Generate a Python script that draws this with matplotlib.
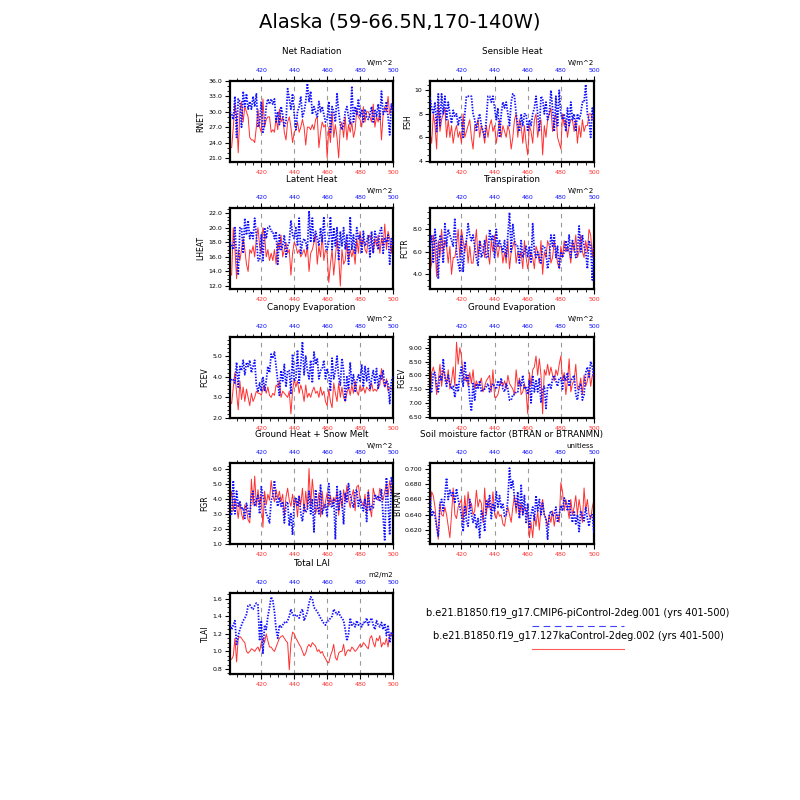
import numpy as np
import matplotlib
matplotlib.use("Agg")
import matplotlib.pyplot as plt
from matplotlib.ticker import MultipleLocator, FormatStrFormatter, FixedLocator
from matplotlib.lines import Line2D

# ---------------- data ----------------
rnet_a = [30.0, 29.5, 28.5, 33.0, 25.0, 32.5, 32.0, 27.0, 34.0, 31.0,
          33.5, 30.5, 32.0, 30.5, 33.0, 31.0, 33.5, 27.0, 28.0, 32.0,
          26.0, 27.5, 31.0, 32.5, 31.5, 32.5, 31.5, 32.5, 28.0, 30.0,
          27.5, 31.0, 29.5, 27.0, 28.0, 34.5, 32.5, 30.5, 33.5, 29.5,
          26.5, 30.0, 31.0, 33.0, 29.0, 30.0, 32.0, 35.5, 32.0, 34.0,
          29.5, 31.0, 30.0, 29.0, 32.0, 30.0, 31.0, 29.5, 28.0, 28.5,
          32.0, 26.0, 31.0, 30.0, 28.0, 33.5, 30.0, 27.5, 26.5, 27.5,
          30.0, 31.0, 29.0, 27.5, 35.0, 28.0, 31.0, 29.5, 32.5, 29.0,
          30.5, 28.0, 30.5, 29.0, 28.5, 29.5, 31.0, 28.0, 30.5, 29.0,
          31.5, 28.5, 34.0, 29.5, 30.0, 32.0, 29.0, 25.5, 31.5, 30.0]
rnet_b = [23.0, 23.0, 27.0, 31.5, 29.0, 22.0, 30.0, 32.0, 28.0, 31.0,
          30.0, 29.0, 25.0, 24.5, 24.5, 24.0, 27.0, 30.5, 27.0, 26.0,
          32.5, 27.0, 28.5, 29.0, 29.0, 26.0, 26.5, 26.0, 29.0, 26.5,
          30.5, 28.0, 29.0, 26.0, 24.5, 28.0, 29.0, 27.0, 24.0, 26.0,
          26.5, 28.0, 26.0, 27.0, 28.5, 27.0, 23.5, 27.0, 27.0, 26.5,
          27.5, 26.5, 28.5, 29.0, 23.0, 26.0, 28.0, 27.0, 27.5, 21.0,
          27.0, 24.0, 30.0, 25.0, 27.5, 25.0, 21.0, 27.0, 28.0, 25.0,
          29.0, 24.5, 27.5, 26.0, 28.0, 25.0, 26.5, 30.5, 29.0, 28.5,
          27.0, 31.0, 28.0, 30.0, 30.0, 29.0, 28.0, 31.5, 27.0, 29.0,
          28.0, 30.0, 24.5, 29.5, 31.0, 30.0, 33.0, 29.5, 31.0, 30.5]

fsh_a = [9.4, 8.5, 8.0, 9.0, 6.5, 9.7, 7.0, 9.7, 8.0, 9.5,
         7.5, 9.0, 8.0, 7.2, 8.3, 7.8, 8.0, 7.0, 7.8, 7.5,
         6.0, 8.0, 9.5, 9.5, 9.5, 9.5, 8.0, 7.5, 6.5, 7.5,
         8.0, 7.0, 6.5, 6.0, 7.5, 9.5, 9.5, 9.0, 9.5, 8.5,
         7.5, 8.5, 6.0, 8.0, 9.0, 8.5, 9.0, 8.0, 7.0, 9.0,
         9.7, 9.5, 8.0, 7.0, 6.5, 8.0, 7.0, 8.0, 8.0, 6.5,
         7.5, 7.0, 8.0, 8.5, 9.5, 8.0, 6.5, 9.5, 9.3, 8.0,
         9.0, 7.5, 8.0, 10.0, 8.5, 6.5, 9.5, 7.0, 10.0, 8.0,
         7.5, 8.0, 6.5, 8.5, 7.0, 9.0, 7.5, 8.0, 6.5, 8.0,
         7.5, 8.0, 9.0, 9.0, 10.5, 8.0, 7.5, 6.0, 8.5, 7.5]
fsh_b = [6.5, 5.5, 8.0, 7.0, 5.0, 9.0, 6.5, 7.5, 8.0, 8.5,
         6.0, 7.5, 6.0, 7.0, 5.5, 6.5, 7.0, 6.0, 6.5, 5.5,
         8.0, 6.0, 6.5, 7.0, 7.5, 6.0, 5.0, 7.0, 7.0, 7.5,
         6.0, 7.0, 6.5, 5.5, 7.0, 6.0, 7.0, 7.5, 6.5, 7.0,
         5.5, 6.5, 7.5, 6.0, 7.0, 6.5, 6.0, 7.0, 6.5, 5.0,
         6.0, 7.5, 8.0, 6.0, 7.5, 7.0, 5.5, 7.0, 5.5, 4.5,
         7.0, 6.5, 5.5, 7.5, 8.0, 6.0, 7.0, 7.5, 4.5, 7.0,
         6.0, 7.5, 8.0, 8.5, 6.5, 7.5, 8.0, 6.0, 5.5, 5.0,
         8.0, 7.0, 7.5, 6.0, 7.0, 7.5, 7.5, 6.5, 7.5, 5.5,
         7.0, 6.0, 7.5, 6.5, 7.0, 7.0, 8.0, 8.0, 7.5, 7.5]

lheat_a = [18.0, 17.5, 17.0, 20.0, 16.0, 13.5, 20.0, 20.0, 16.5, 21.3,
           19.0, 21.0, 18.5, 19.5, 18.5, 21.3, 19.0, 15.5, 15.5, 19.0,
           15.5, 20.0, 18.5, 20.0, 20.2, 19.5, 19.5, 18.5, 19.5, 15.0,
           19.0, 17.0, 17.5, 19.0, 16.0, 17.5, 18.0, 21.0, 19.0, 18.5,
           20.0, 17.5, 21.3, 16.5, 18.0, 18.5, 18.0, 17.0, 22.3, 18.0,
           21.3, 18.0, 19.5, 18.5, 17.5, 20.0, 18.0, 21.5, 17.5, 17.0,
           18.0, 21.5, 17.0, 20.0, 17.5, 20.0, 15.5, 19.5, 17.5, 20.0,
           17.0, 19.0, 15.0, 21.5, 17.0, 19.0, 16.5, 20.0, 18.5, 19.0,
           16.5, 19.5, 17.5, 18.0, 19.0, 16.0, 19.5, 16.5, 19.5, 18.5,
           17.0, 19.5, 20.0, 16.5, 18.5, 18.0, 19.0, 15.0, 18.5, 17.5]
lheat_b = [13.8, 13.5, 20.0, 17.0, 13.0, 17.0, 15.5, 17.0, 18.5, 17.0,
           15.0, 14.0, 17.0, 16.5, 17.5, 16.0, 18.5, 20.0, 17.5, 16.5,
           20.0, 19.0, 16.0, 17.0, 15.5, 16.5, 15.5, 17.0, 15.0, 18.0,
           17.0, 19.0, 16.0, 17.0, 18.0, 16.5, 17.0, 13.5, 16.5, 18.0,
           17.5, 16.5, 17.0, 16.0, 16.5, 17.0, 16.0, 17.5, 14.0, 16.5,
           17.0, 18.0, 19.0, 15.0, 17.5, 16.0, 19.0, 15.5, 17.0, 16.5,
           12.5, 15.0, 17.0, 13.5, 16.0, 18.5, 16.0, 12.0, 17.0, 15.0,
           15.5, 18.0, 15.5, 17.0, 16.0, 17.0, 15.0, 18.5, 16.5, 19.5,
           17.5, 18.5, 17.0, 16.5, 18.5, 19.0, 18.0, 16.5, 18.5, 17.5,
           19.0, 16.5, 18.5, 17.5, 20.5, 17.0, 19.5, 18.5, 16.5, 19.5]

fctr_a = [6.5, 7.5, 5.0, 8.0, 6.5, 3.6, 7.5, 7.0, 5.0, 8.5,
          6.5, 8.0, 7.5, 7.0, 6.5, 9.0, 6.0, 5.0, 4.3, 7.5,
          4.2, 6.5, 7.0, 8.5, 7.5, 7.0, 7.5, 6.5, 5.5, 4.8,
          7.0, 5.5, 6.0, 7.0, 5.5, 5.5, 8.0, 7.0, 7.5, 5.5,
          8.0, 6.5, 7.0, 6.5, 6.0, 7.0, 5.5, 7.5, 9.5, 6.0,
          8.5, 7.0, 6.5, 6.5, 5.0, 7.0, 5.5, 6.0, 6.5, 5.5,
          6.5, 5.0, 8.5, 6.0, 5.5, 6.0, 5.5, 5.0, 6.5, 6.5,
          6.0, 4.5, 5.5, 7.5, 6.5, 7.5, 5.5, 6.5, 4.5, 6.0,
          5.5, 6.0, 7.0, 6.0, 7.5, 5.5, 7.0, 6.5, 5.5, 6.0,
          8.3, 6.0, 7.5, 6.5, 6.0, 4.5, 7.0, 6.5, 3.5, 6.5]
fctr_b = [4.2, 5.0, 7.5, 6.5, 3.8, 7.0, 5.5, 8.0, 6.0, 7.0,
          6.5, 5.0, 6.5, 4.0, 5.5, 5.5, 6.5, 8.0, 5.5, 8.0,
          7.0, 6.0, 7.0, 5.0, 6.5, 5.0, 5.0, 6.5, 8.0, 5.5,
          7.0, 6.5, 6.5, 5.5, 7.5, 6.0, 4.9, 7.0, 6.0, 7.5,
          6.5, 5.5, 6.5, 6.5, 5.0, 6.0, 5.0, 7.0, 4.5, 6.0,
          6.5, 7.0, 5.0, 6.0, 5.5, 6.0, 4.5, 7.0, 5.5, 4.5,
          5.5, 6.0, 5.5, 4.5, 6.5, 6.0, 5.0, 7.0, 4.0, 6.0,
          5.5, 7.0, 6.5, 5.0, 5.5, 7.0, 6.0, 5.0, 4.5, 6.5,
          5.5, 7.0, 6.0, 6.5, 6.0, 5.0, 7.0, 6.0, 7.5, 5.5,
          6.0, 7.5, 6.0, 5.5, 7.0, 6.0, 8.0, 7.5, 5.5, 7.5]

fcev_a = [3.7, 3.9, 3.85, 3.7, 4.7, 3.5, 4.5, 4.3, 4.8, 4.1,
          4.7, 4.5, 4.8, 4.2, 4.5, 4.8, 3.6, 3.3, 3.7, 3.3,
          4.0, 3.3, 3.8, 4.5, 4.2, 5.1, 4.9, 5.2, 4.5, 3.8,
          3.1, 4.3, 3.8, 4.6, 3.5, 4.3, 4.3, 3.2, 5.1, 3.8,
          3.9, 5.3, 3.7, 4.6, 5.7, 4.1, 5.0, 4.3, 3.9, 4.8,
          3.7, 5.2, 4.6, 4.9, 3.9, 4.3, 4.4, 4.8, 3.9, 4.4,
          4.1, 3.3, 4.9, 3.9, 4.3, 5.0, 4.0, 3.6, 4.9, 4.3,
          2.8, 4.0, 3.4, 4.7, 3.6, 4.1, 3.3, 3.8, 4.1, 3.8,
          4.6, 3.5, 4.5, 3.8, 4.4, 3.4, 3.9, 4.3, 3.7, 4.4,
          3.4, 4.1, 3.9, 4.3, 3.5, 3.8, 3.7, 2.7, 3.8, 4.0]
fcev_b = [2.8, 2.7, 3.5, 4.2, 3.2, 2.4, 3.8, 2.9, 3.5, 2.8,
          3.4, 3.0, 2.6, 3.2, 2.8, 3.0, 3.3, 3.2, 3.2, 3.1,
          3.4, 3.6, 3.2, 3.5, 3.1, 3.0, 3.2, 3.1, 3.6, 3.5,
          3.8, 3.0, 3.3, 3.2, 3.1, 3.0, 3.3, 2.2, 3.3, 3.9,
          3.5, 3.8, 3.2, 3.6, 3.3, 2.8, 3.6, 3.0, 3.2, 3.0,
          3.3, 3.5, 3.2, 3.3, 3.0, 3.5, 3.1, 3.3, 2.8, 2.6,
          3.4, 2.8, 2.5, 3.7, 3.2, 2.8, 3.7, 3.0, 3.5, 3.0,
          2.8, 3.2, 3.5, 3.1, 3.6, 3.2, 3.8, 3.3, 3.1, 3.6,
          3.3, 3.5, 3.2, 3.5, 3.4, 3.3, 3.7, 3.3, 3.4, 3.3,
          3.5, 3.6, 4.4, 3.8, 3.5, 3.9, 3.3, 3.5, 3.4, 3.5]

fgev_a = [7.5, 7.4, 8.1, 8.1, 7.6, 7.4, 8.0, 7.8, 8.6, 7.9,
          7.6, 8.0, 7.7, 7.5, 7.6, 7.2, 7.7, 7.4, 8.0, 8.3,
          7.6, 8.5, 7.8, 8.0, 7.1, 6.7, 7.7, 7.1, 7.7, 7.5,
          7.8, 7.4, 7.5, 7.5, 7.6, 7.7, 7.4, 7.6, 7.7, 7.6,
          7.5, 7.8, 7.6, 7.9, 7.5, 7.4, 7.7, 7.5, 7.1, 7.1,
          7.3, 7.3, 7.4, 7.4, 7.8, 7.6, 8.0, 7.5, 7.6, 7.3,
          7.8, 7.0, 8.0, 7.4, 7.8, 7.4, 7.9, 7.0, 7.5, 7.6,
          6.8, 7.6, 7.7, 7.5, 7.9, 8.0, 7.8, 7.6, 7.9, 7.9,
          7.5, 8.0, 7.8, 8.1, 7.6, 7.8, 7.9, 8.0, 7.3, 7.1,
          7.6, 7.7, 7.1, 7.3, 8.1, 8.3, 7.9, 8.5, 8.3, 7.9]
fgev_b = [7.0, 8.1, 8.3, 8.0, 7.3, 7.8, 8.4, 7.6, 8.2, 8.0,
          7.7, 8.2, 7.5, 7.8, 8.3, 7.6, 9.2, 8.4, 9.0, 8.7,
          8.0, 7.8, 8.0, 7.6, 8.1, 7.7, 8.2, 7.5, 7.8, 7.6,
          7.7, 7.9, 7.4, 7.6, 7.8, 7.9, 8.0, 7.4, 8.2, 7.2,
          7.2, 7.3, 7.6, 7.8, 7.6, 7.8, 7.5, 8.0, 7.7, 7.6,
          7.5, 7.3, 8.2, 7.6, 7.9, 7.3, 7.4, 7.7, 7.4, 6.6,
          8.1, 7.6, 8.2, 8.3, 8.7, 8.0, 8.6, 8.0, 6.6, 8.2,
          8.0, 8.4, 8.0, 8.3, 8.0, 7.8, 8.2, 8.0, 8.4, 8.7,
          7.8, 8.1, 7.3, 7.8, 8.6, 7.4, 7.7, 7.8, 8.4, 7.5,
          7.5, 7.9, 7.3, 8.0, 7.6, 7.8, 8.2, 7.6, 8.0, 8.1]

fgr_a = [3.0, 2.9, 5.2, 3.0, 4.5, 3.5, 3.8, 3.3, 3.4, 2.7,
         3.7, 3.2, 2.8, 4.2, 4.5, 3.5, 3.9, 4.2, 3.0, 4.8,
         4.2, 3.7, 3.0, 2.8, 2.4, 3.9, 4.2, 5.2, 4.0, 3.5,
         4.1, 3.5, 3.8, 2.4, 3.6, 3.8, 2.2, 3.0, 1.6, 3.8,
         4.1, 3.5, 4.2, 3.0, 2.5, 3.6, 3.1, 3.3, 4.5, 3.0,
         4.0, 1.8, 4.6, 3.5, 3.0, 4.9, 3.0, 3.5, 3.6, 2.8,
         5.0, 3.6, 3.4, 4.0, 1.3, 4.8, 3.2, 4.5, 3.8, 2.3,
         4.4, 3.8, 5.0, 4.2, 3.8, 3.4, 4.5, 4.6, 3.5, 4.0,
         3.5, 3.2, 4.0, 2.5, 4.4, 3.2, 3.5, 3.4, 4.3, 4.0,
         4.2, 3.8, 4.6, 2.8, 1.2, 5.4, 3.8, 1.6, 5.4, 4.9]
fgr_b = [3.8, 4.5, 3.2, 4.0, 3.5, 2.7, 3.8, 3.0, 2.6, 3.6,
         3.3, 2.6, 2.4, 5.3, 3.6, 5.5, 3.5, 4.6, 3.6, 4.3,
         2.1, 4.5, 3.6, 4.3, 3.9, 5.2, 4.3, 3.8, 4.6, 4.0,
         4.5, 3.8, 4.3, 2.9, 4.1, 4.7, 3.9, 3.5, 4.3, 3.5,
         4.0, 2.8, 4.2, 3.6, 4.7, 3.1, 4.5, 3.3, 6.0, 3.5,
         5.3, 4.1, 3.0, 3.5, 4.4, 2.8, 4.5, 3.3, 3.8, 4.4,
         3.5, 4.2, 3.6, 4.1, 3.8, 4.5, 2.9, 4.2, 3.4, 4.6,
         3.8, 4.9, 4.0, 3.4, 4.2, 4.6, 3.2, 4.8, 4.9, 4.0,
         3.8, 3.5, 4.3, 3.0, 4.6, 3.4, 2.8, 4.7, 4.2, 4.0,
         3.9, 4.7, 4.2, 3.9, 4.5, 5.0, 4.2, 5.2, 4.5, 4.0]

btran_a = [0.663, 0.638, 0.645, 0.638, 0.625, 0.612, 0.655, 0.660, 0.645, 0.665,
           0.688, 0.660, 0.672, 0.665, 0.670, 0.655, 0.674, 0.660, 0.650, 0.640,
           0.618, 0.652, 0.632, 0.625, 0.660, 0.640, 0.630, 0.640, 0.622, 0.635,
           0.610, 0.645, 0.640, 0.618, 0.658, 0.650, 0.665, 0.635, 0.655, 0.645,
           0.670, 0.650, 0.665, 0.648, 0.655, 0.638, 0.640, 0.660, 0.701, 0.675,
           0.685, 0.662, 0.650, 0.670, 0.635, 0.680, 0.640, 0.665, 0.630, 0.655,
           0.622, 0.640, 0.650, 0.632, 0.665, 0.645, 0.660, 0.640, 0.655, 0.640,
           0.635, 0.608, 0.640, 0.645, 0.638, 0.640, 0.650, 0.630, 0.640, 0.652,
           0.645, 0.662, 0.655, 0.645, 0.660, 0.640, 0.630, 0.645, 0.628, 0.640,
           0.618, 0.645, 0.640, 0.632, 0.650, 0.635, 0.625, 0.640, 0.640, 0.615]
btran_b = [0.645, 0.670, 0.665, 0.650, 0.625, 0.608, 0.655, 0.640, 0.638, 0.650,
           0.640, 0.625, 0.610, 0.640, 0.675, 0.640, 0.635, 0.650, 0.655, 0.660,
           0.630, 0.665, 0.640, 0.670, 0.648, 0.655, 0.640, 0.645, 0.672, 0.650,
           0.660, 0.655, 0.630, 0.675, 0.640, 0.660, 0.650, 0.645, 0.670, 0.640,
           0.635, 0.645, 0.638, 0.640, 0.628, 0.625, 0.640, 0.650, 0.640, 0.630,
           0.650, 0.665, 0.642, 0.660, 0.638, 0.655, 0.640, 0.650, 0.645, 0.640,
           0.610, 0.630, 0.610, 0.640, 0.625, 0.645, 0.620, 0.650, 0.660, 0.640,
           0.635, 0.625, 0.640, 0.630, 0.645, 0.625, 0.640, 0.640, 0.630, 0.682,
           0.670, 0.645, 0.660, 0.650, 0.635, 0.660, 0.640, 0.650, 0.665, 0.640,
           0.660, 0.645, 0.630, 0.675, 0.645, 0.660, 0.640, 0.635, 0.650, 0.660]

tlai_a = [1.31, 1.25, 1.30, 1.35, 1.08, 1.18, 1.25, 1.30, 1.35, 1.38,
          1.42, 1.52, 1.53, 1.50, 1.48, 1.52, 1.55, 1.53, 1.12, 1.35,
          0.98, 1.30, 1.25, 1.40, 1.50, 1.62, 1.58, 1.45, 1.25, 1.15,
          1.30, 1.27, 1.30, 1.33, 1.32, 1.35, 1.40, 1.48, 1.42, 1.40,
          1.42, 1.40, 1.38, 1.45, 1.48, 1.35, 1.40, 1.45, 1.55, 1.62,
          1.60, 1.50, 1.48, 1.45, 1.42, 1.38, 1.35, 1.32, 1.30, 1.35,
          1.35, 1.38, 1.40, 1.48, 1.45, 1.42, 1.45, 1.40, 1.38, 1.35,
          1.25, 1.12, 1.20, 1.38, 1.30, 1.32, 1.28, 1.35, 1.30, 1.32,
          1.28, 1.33, 1.32, 1.38, 1.30, 1.35, 1.38, 1.30, 1.25, 1.35,
          1.30, 1.28, 1.33, 1.25, 1.32, 1.18, 1.30, 1.10, 1.22, 1.18]
tlai_b = [0.92, 0.91, 0.95, 1.15, 0.88, 1.15, 1.17, 1.15, 1.12, 1.10,
          1.00, 0.98, 1.00, 1.03, 1.02, 1.00, 1.03, 1.05, 1.00, 1.10,
          1.15, 1.10, 1.20, 1.12, 1.05, 1.05, 1.02, 1.00, 1.05, 1.10,
          1.15, 1.17, 1.18, 1.15, 1.12, 1.10, 0.79, 1.10, 1.22, 1.20,
          1.15, 1.12, 1.08, 1.05, 1.00, 0.95, 0.98, 1.05, 1.08, 1.05,
          1.10, 1.08, 1.06, 1.00, 1.02, 0.98, 1.00, 0.95, 0.92, 0.88,
          0.87, 0.95, 1.00, 1.08, 0.93, 0.90, 0.98, 1.00, 1.00, 1.08,
          0.95, 1.00, 1.02, 1.00, 1.05, 1.03, 1.00, 1.02, 1.05, 1.08,
          1.05, 1.10, 1.08, 1.05, 1.03, 1.15, 1.18, 1.10, 1.05, 1.15,
          1.12, 1.18, 1.05, 1.10, 1.08, 1.15, 1.05, 1.20, 1.18, 1.20]

titles = ["Net Radiation", "Sensible Heat", "Latent Heat", "Transpiration",
          "Canopy Evaporation", "Ground Evaporation", "Ground Heat + Snow Melt",
          "Soil moisture factor (BTRAN or BTRANMN)", "Total LAI"]
ylabels = ["RNET", "FSH", "LHEAT", "FCTR", "FCEV", "FGEV", "FGR", "BTRAN", "TLAI"]
units = ["W/m^2"] * 7 + ["unitless", "m2/m2"]
series_a = [rnet_a, fsh_a, lheat_a, fctr_a, fcev_a, fgev_a, fgr_a, btran_a, tlai_a]
series_b = [rnet_b, fsh_b, lheat_b, fctr_b, fcev_b, fgev_b, fgr_b, btran_b, tlai_b]
ylims = [(20.2, 36.0), (3.9, 10.8), (11.6, 22.7), (2.7, 9.9), (2.0, 5.93),
         (6.45, 9.39), (1.0, 6.37), (0.6017, 0.7077), (0.743, 1.665)]
ymajor = [3.0, 2.0, 2.0, 2.0, 1.0, 0.5, 1.0, 0.02, 0.2]
yminor = [1.0, 0.5, 0.5, 0.5, 0.2, 0.1, 0.2, 0.005, 0.05]
yfmt = ["%.1f", "%d", "%.1f", "%.1f", "%.1f", "%.2f", "%.1f", "%.3f", "%.1f"]
xticks = [420, 440, 460, 480, 500]
legend_labels = ["b.e21.B1850.f19_g17.CMIP6-piControl-2deg.001 (yrs 401-500)",
                 "b.e21.B1850.f19_g17.127kaControl-2deg.002 (yrs 401-500)"]

BLUE = "#1010ff"
RED = "#ff3030"

fig = plt.figure(figsize=(8, 8), dpi=100)
fig.patch.set_facecolor("white")
fig.text(0.5, 1 - 22 / 800, "Alaska (59-66.5N,170-140W)", ha="center", va="center",
         fontsize=14)

col_x = [230, 430]
col_w = [163, 164]
row_top = [81, 208, 337, 463, 593]
ax_h = 81

for i in range(9):
    r, c = divmod(i, 2)
    x0 = col_x[c] / 800
    y0 = 1 - (row_top[r] + ax_h) / 800
    ax = fig.add_axes([x0, y0, col_w[c] / 800, ax_h / 800])
    a = np.array(series_a[i])
    b = np.array(series_b[i])
    yrs_a = np.arange(401, 401 + len(a))
    yrs_b = np.arange(401, 401 + len(b))
    for xv in [420, 440, 460, 480]:
        ax.axvline(xv, color="#999999", lw=0.8, ls=(0, (4, 4)), zorder=1)
    ax.plot(yrs_b, b, color=RED, lw=0.7, zorder=2)
    ax.plot(yrs_a, a, color=BLUE, lw=1.3, ls=(0, (0.8, 0.8)), zorder=3)
    ax.set_xlim(401, 500)
    ax.set_ylim(*ylims[i])
    for s in ax.spines.values():
        s.set_linewidth(1.6)
    ax.xaxis.set_major_locator(FixedLocator(xticks))
    ax.xaxis.set_minor_locator(MultipleLocator(5))
    ax.yaxis.set_major_locator(MultipleLocator(ymajor[i]))
    ax.yaxis.set_minor_locator(MultipleLocator(yminor[i]))
    ax.yaxis.set_major_formatter(FormatStrFormatter(yfmt[i]))
    ax.tick_params(axis="both", which="major", direction="out", length=3.5,
                   width=0.8, labelsize=4.5, pad=2)
    ax.tick_params(axis="both", which="minor", direction="out", length=2,
                   width=0.6)
    ax.tick_params(axis="x", which="both", top=True, bottom=True,
                   labelcolor=RED)
    ax.tick_params(axis="y", which="both", left=True, right=False)
    ax.set_xticklabels([str(v) for v in xticks])
    ax.set_ylabel(ylabels[i], fontsize=5.5, labelpad=2)
    # top axis labels in blue
    sec = ax.secondary_xaxis("top")
    sec.set_xticks(xticks)
    sec.set_xticklabels([str(v) for v in xticks])
    sec.tick_params(axis="x", which="both", length=0, labelsize=4.5,
                    labelcolor=BLUE, pad=5.5)
    sec.spines["top"].set_visible(False)
    ax.text(0.5, 1.0 + 29 / 81, titles[i], transform=ax.transAxes,
            ha="center", va="center", fontsize=6.3)
    ax.text(1.0, 1.0 + 17.5 / 81, units[i], transform=ax.transAxes,
            ha="right", va="center", fontsize=5)

# legend area
fig.text(578 / 800, 1 - 613 / 800, legend_labels[0], ha="center", va="center",
         fontsize=7.0)
fig.text(578 / 800, 1 - 636 / 800, legend_labels[1], ha="center", va="center",
         fontsize=7.0)
fig.add_artist(Line2D([532 / 800, 624 / 800], [1 - 626 / 800, 1 - 626 / 800],
                      color=BLUE, lw=0.8, ls=(0, (6, 4)), alpha=0.8))
fig.add_artist(Line2D([532 / 800, 624 / 800], [1 - 649 / 800, 1 - 649 / 800],
                      color=RED, lw=0.8, alpha=0.8))

fig.savefig("out.png", dpi=100, facecolor="white")
